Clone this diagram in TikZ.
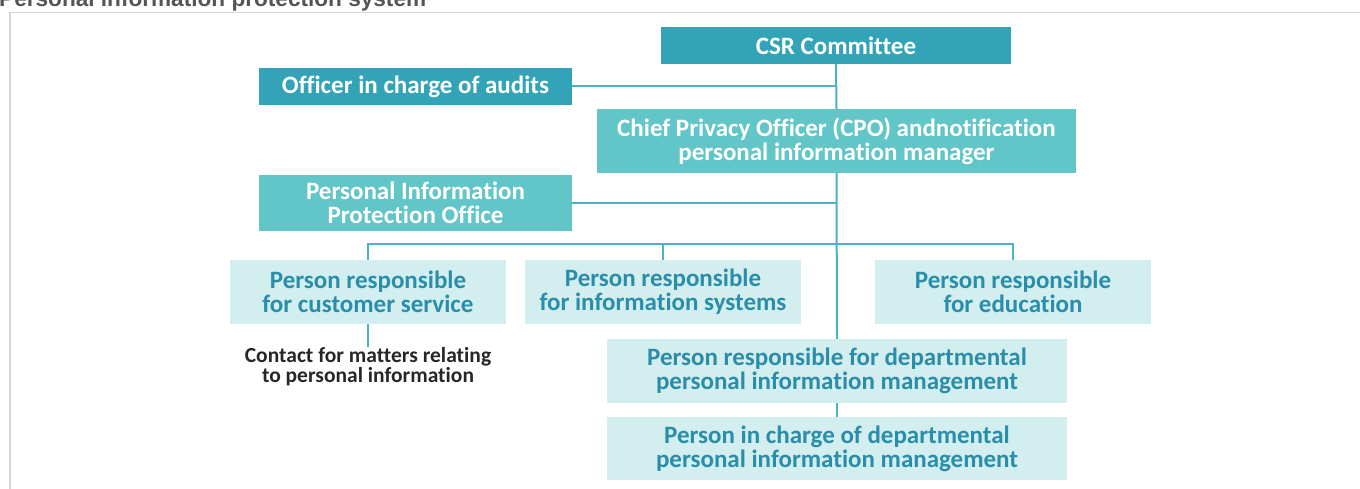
\documentclass[tikz,border=0pt]{standalone}
\usepackage{fontspec}
\setmainfont{Carlito}[Ligatures=NoCommon]
\newfontfamily\titlefont{Liberation Sans}
\definecolor{tealdark}{HTML}{33A3B8}
\definecolor{tealmid}{HTML}{62C6C8}
\definecolor{teallight}{HTML}{D2EEEF}
\definecolor{tealtext}{HTML}{2A8DAA}
\definecolor{tealline}{HTML}{4DB0C6}
\definecolor{panelgray}{HTML}{D5D5D5}
\definecolor{titlegray}{HTML}{555555}
\tikzset{
  orgbox/.style={inner sep=0pt, align=center, font=\bfseries\fontsize{25}{24}\selectfont},
  darkbox/.style={orgbox, fill=tealdark, text=white},
  midbox/.style={orgbox, fill=tealmid, text=white},
  lightbox/.style={orgbox, fill=teallight, text=tealtext},
  link/.style={draw=tealline, line width=2pt}
}
\begin{document}
\begin{tikzpicture}[x=1pt, y=-1pt]
\useasboundingbox (0,0) rectangle (1360,489);
\node[anchor=base west, inner sep=0pt, text=titlegray, font=\titlefont\bfseries\fontsize{22.6}{24}\selectfont] (title) at (-1,6.5) {Personal information protection system};
\draw[panelgray, line width=1.5pt] (10,489) -- (10,12.7) -- (1360,12.7);
\node[darkbox, minimum width=350, minimum height=37] (csr) at (836,45.5) {CSR Committee};
\node[darkbox, minimum width=313, minimum height=37] (audit) at (415.5,86.5) {Officer in charge of audits};
\node[midbox, minimum width=479, minimum height=64] (cpo) at (836.5,141) {Chief Privacy Officer (CPO) andnotification\\personal information manager};
\node[midbox, minimum width=313, minimum height=56] (pipo) at (415.5,203) {Personal Information\\Protection Office};
\node[lightbox, minimum width=276, minimum height=64] (cust) at (368,292) {Person responsible\\for customer service};
\node[lightbox, minimum width=276, minimum height=64] (info) at (663,292) {Person responsible\\for information systems};
\node[lightbox, minimum width=276, minimum height=64] (edu) at (1013,292) {Person responsible\\for education};
\node[lightbox, minimum width=460, minimum height=64] (dept) at (837,371) {Person responsible for departmental\\personal information management};
\node[lightbox, minimum width=460, minimum height=63] (deptsub) at (837,448.5) {Person in charge of departmental\\personal information management};
\node[anchor=north, inner sep=0pt, align=center, font=\bfseries\fontsize{21.5}{17.5}\selectfont, text=black!85] (contact) at (368,347) {Contact for matters relating\\to personal information};
\coordinate (bus) at (836.7,244);
\draw[link] (csr.south) -- (cpo.north);
\draw[link] (cpo.south) -- (dept.north);
\draw[link] (dept.south) -- (deptsub.north);
\draw[link] (audit.east) -- (audit.east -| csr.south);
\draw[link] (pipo.east) -- (pipo.east -| cpo.south);
\draw[link] (cust.north) |- (bus) -| (edu.north);
\draw[link] (info.north) -- (info.north |- bus);
\draw[link] (cust.south) -- (contact.north);
\end{tikzpicture}
\end{document}
